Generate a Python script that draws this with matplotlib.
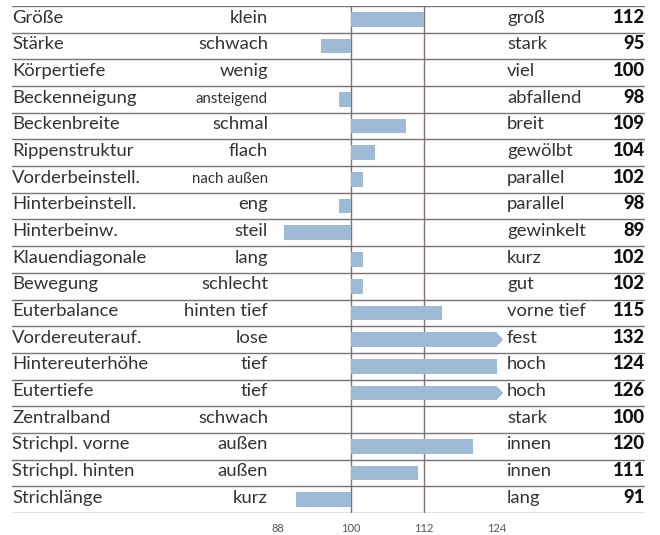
import matplotlib
matplotlib.use("Agg")
import matplotlib.pyplot as plt
from matplotlib.patches import Polygon

# Merkmale (links), Pole links/rechts, Zuchtwerte
merkmale = ["Größe", "Stärke", "Körpertiefe", "Beckenneigung", "Beckenbreite",
            "Rippenstruktur", "Vorderbeinstell.", "Hinterbeinstell.", "Hinterbeinw.",
            "Klauendiagonale", "Bewegung", "Euterbalance", "Vordereuterauf.",
            "Hintereuterhöhe", "Eutertiefe", "Zentralband", "Strichpl. vorne",
            "Strichpl. hinten", "Strichlänge"]
pol_links = ["klein", "schwach", "wenig", "ansteigend", "schmal", "flach",
             "nach außen", "eng", "steil", "lang", "schlecht", "hinten tief",
             "lose", "tief", "tief", "schwach", "außen", "außen", "kurz"]
pol_rechts = ["groß", "stark", "viel", "abfallend", "breit", "gewölbt",
              "parallel", "parallel", "gewinkelt", "kurz", "gut", "vorne tief",
              "fest", "hoch", "hoch", "stark", "innen", "innen", "lang"]
werte = [112, 95, 100, 98, 109, 104, 102, 98, 89, 102, 102, 115, 132, 124,
         126, 100, 120, 111, 91]
ticks = [88, 100, 112, 124]

basis = 100
vmin, vmax = 88, 124
bar_col = "#9fbad7"
line_col = "#7d7470"
txt_col = "#333333"
klein = {"ansteigend", "nach außen"}

plt.rcParams['font.family'] = ['Lato', 'DejaVu Sans']

fig = plt.figure(figsize=(6.6, 5.35), dpi=100)
ax = fig.add_axes([12 / 660, 22 / 535, 633 / 660, 507 / 535])
ax.set_xlim(44.27, 148.33)
ax.set_ylim(len(werte) - 0.5, -0.5)
for s in ax.spines.values():
    s.set_visible(False)
ax.set_yticks([])

for i, v in enumerate(werte):
    w = min(max(v, vmin), vmax) - basis
    ax.barh(i, w, left=basis, height=0.55, color=bar_col, zorder=2)
    # Pfeil, wenn der Wert außerhalb der Skala liegt
    if v > vmax:
        ax.add_patch(Polygon([[vmax, i - 0.2], [vmax + 0.9, i], [vmax, i + 0.2]],
                             closed=True, color=bar_col, zorder=2))
    if v < vmin:
        ax.add_patch(Polygon([[vmin, i - 0.2], [vmin - 0.9, i], [vmin, i + 0.2]],
                             closed=True, color=bar_col, zorder=2))

for k in range(len(werte) + 1):
    ax.axhline(k - 0.5, color=line_col, lw=1.0, zorder=1)
for x in [100, 112]:
    ax.axvline(x, color=line_col, lw=1.0, zorder=1)

tr = ax.get_yaxis_transform()
for i in range(len(werte)):
    y = i + 0.12
    ax.text(0, y, merkmale[i], transform=tr, ha="left", va="baseline",
            fontsize=13.3, color=txt_col)
    fs = 10.8 if pol_links[i] in klein else 13.3
    ax.text(0.4044, y, pol_links[i], transform=tr, ha="right", va="baseline",
            fontsize=fs, color=txt_col)
    ax.text(0.782, y, pol_rechts[i], transform=tr, ha="left", va="baseline",
            fontsize=13.3, color=txt_col)
    ax.text(1.0, y, str(werte[i]), transform=tr, ha="right", va="baseline",
            fontsize=13.3, fontweight="black", color="#111111")

ax.set_xticks(ticks)
ax.set_xticklabels([str(t) for t in ticks])
ax.tick_params(axis="x", length=0, pad=7, labelsize=8, labelcolor="#555555")

plt.savefig("out.png", dpi=100)
